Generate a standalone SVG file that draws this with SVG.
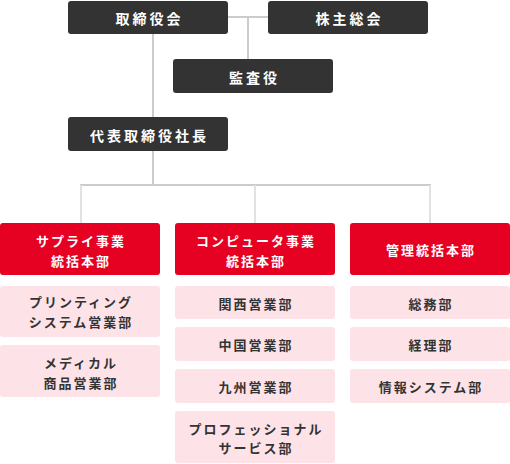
<svg xmlns="http://www.w3.org/2000/svg" width="510" height="464" viewBox="0 0 510 464">
<style>
.dk{fill:#333333}
.rd{fill:#e60022}
.pk{fill:#fde3e8}
.t{font-family:"Noto Sans CJK JP","Noto Sans",sans-serif;font-weight:bold;text-anchor:middle;dominant-baseline:central}
.tw{fill:#ffffff;font-size:14px;letter-spacing:3px}
.tr{fill:#ffffff;font-size:13px;letter-spacing:2px}
.tp{fill:#333333;font-size:13px;letter-spacing:2px}
.ln{stroke:#cccccc;stroke-width:2;fill:none}
.ld{stroke:#e2e2e2;stroke-width:2;fill:none}
</style>
<g id="connectors">
<path class="ln" d="M228 17H268M248 17V59M153 34V117M153 151V185M80 185H431"/>
<path class="ld" d="M81 185V223M255 185V223M430 185V223"/>
</g>
<g id="board"><rect class="dk" x="68" y="1" width="160" height="33" rx="3"/><text class="t tw" x="149.5" y="18">取締役会</text></g>
<g id="shareholders"><rect class="dk" x="268" y="1" width="160" height="33" rx="3"/><text class="t tw" x="349.5" y="18">株主総会</text></g>
<g id="auditor"><rect class="dk" x="173" y="59" width="160" height="34" rx="3"/><text class="t tw" x="254.5" y="76.5">監査役</text></g>
<g id="president"><rect class="dk" x="68" y="117" width="160" height="34" rx="3"/><text class="t tw" x="149.5" y="134.5">代表取締役社長</text></g>
<g id="supply"><rect class="rd" x="0" y="223" width="160" height="52" rx="3"/><text class="t tr" x="81" y="240">サプライ事業</text><text class="t tr" x="81" y="260.5">統括本部</text></g>
<g id="computer"><rect class="rd" x="175" y="223" width="160" height="52" rx="3"/><text class="t tr" x="256" y="240">コンピュータ事業</text><text class="t tr" x="256" y="260.5">統括本部</text></g>
<g id="admin"><rect class="rd" x="350" y="223" width="160" height="52" rx="3"/><text class="t tr" x="431" y="249.5">管理統括本部</text></g>
<g id="printing"><rect class="pk" x="0" y="286" width="160" height="51" rx="3"/><text class="t tp" x="81" y="301.5">プリンティング</text><text class="t tp" x="81" y="321">システム営業部</text></g>
<g id="medical"><rect class="pk" x="0" y="345" width="160" height="52" rx="3"/><text class="t tp" x="81" y="362.5">メディカル</text><text class="t tp" x="81" y="382">商品営業部</text></g>
<g id="kansai"><rect class="pk" x="175" y="286" width="160" height="33" rx="3"/><text class="t tp" x="256" y="303">関西営業部</text></g>
<g id="chugoku"><rect class="pk" x="175" y="327" width="160" height="34" rx="3"/><text class="t tp" x="256" y="344.5">中国営業部</text></g>
<g id="kyushu"><rect class="pk" x="175" y="369" width="160" height="34" rx="3"/><text class="t tp" x="256" y="386.5">九州営業部</text></g>
<g id="professional"><rect class="pk" x="175" y="411" width="160" height="52" rx="3"/><text class="t tp" x="256" y="428">プロフェッショナル</text><text class="t tp" x="256" y="447.5">サービス部</text></g>
<g id="general"><rect class="pk" x="350" y="286" width="160" height="33" rx="3"/><text class="t tp" x="431" y="303">総務部</text></g>
<g id="accounting"><rect class="pk" x="350" y="327" width="160" height="34" rx="3"/><text class="t tp" x="431" y="344.5">経理部</text></g>
<g id="infosys"><rect class="pk" x="350" y="369" width="160" height="34" rx="3"/><text class="t tp" x="431" y="386.5">情報システム部</text></g>
</svg>
